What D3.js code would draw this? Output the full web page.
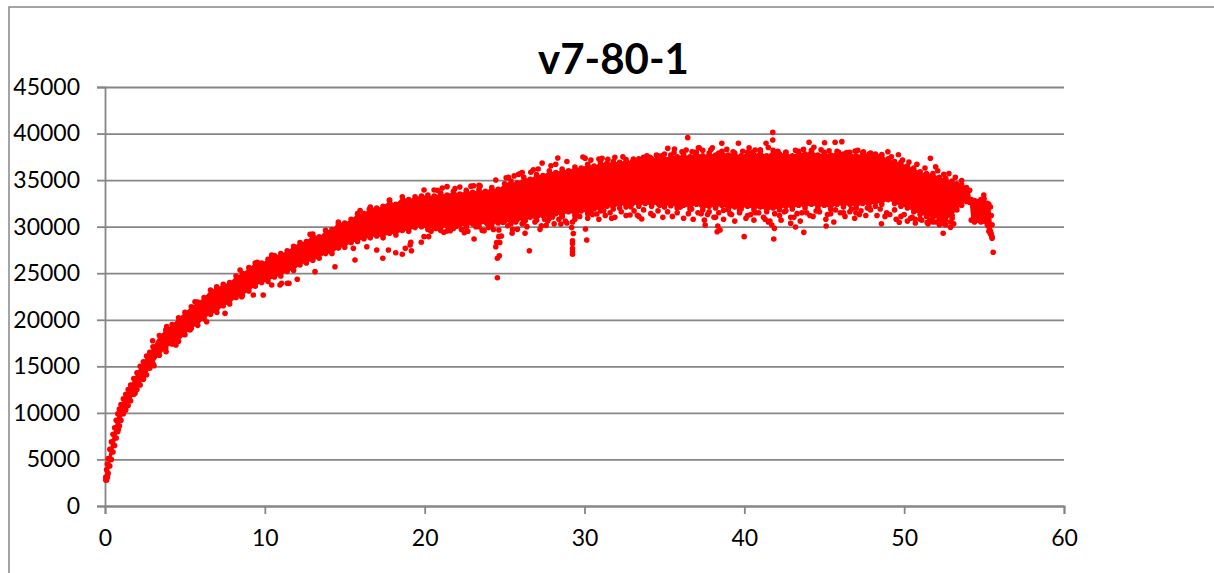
<!DOCTYPE html>
<html>
<head>
<meta charset="utf-8">
<script src="https://cdn.jsdelivr.net/npm/d3@7"></script>
<style>
  html, body { margin: 0; padding: 0; background: #fff; overflow: hidden; }
  .tick text { font-family: Lato, sans-serif; font-size: 23px; fill: #000; }
</style>
</head>
<body>
<script>
'use strict';

const title = "v7-80-1";
const xTicks = [0, 10, 20, 30, 40, 50, 60];
const yTicks = [0, 5000, 10000, 15000, 20000, 25000, 30000, 35000, 40000, 45000];

// edge of the solid cloud
const edgeX = [0.05, 0.1, 0.15, 0.2, 0.3, 0.4, 0.5, 0.6, 0.7, 0.8, 0.9, 1, 1.15, 1.3, 1.45, 1.6, 1.8, 2, 2.2, 2.4, 2.6, 2.8, 3,
  3.4, 3.8, 4.2, 4.6, 5, 5.4, 5.8, 6.2, 6.6, 7, 7.4, 7.8, 8.2, 8.6, 9, 9.4, 9.8, 10.2, 10.6, 11, 11.4, 11.8, 12.2, 12.6, 13, 13.4, 13.8, 14.2, 14.6, 15, 15.4, 15.8, 16.2, 16.6, 17, 17.4, 17.8, 18.2, 18.6, 19, 19.4, 19.8,
  20.2, 20.6, 21, 21.4, 21.8, 22.2, 22.6, 23, 23.4, 23.8, 24.2, 24.6, 25, 25.4, 25.8, 26.2, 26.6, 27, 27.4, 27.8, 28.2, 28.6, 29, 29.4, 29.8, 30.2, 30.6, 31, 31.4, 31.8, 32.2, 32.6, 33, 33.4, 33.8, 34.2, 34.6, 35, 35.4, 35.8, 36.2, 36.6, 37, 37.4, 37.8, 38.2, 38.6, 39, 39.4, 39.8, 40.2, 40.6, 41, 41.4, 41.8, 42.2, 42.6, 43, 43.4, 43.8, 44.2, 44.6, 45, 45.4, 45.8, 46.2, 46.6, 47, 47.4, 47.8, 48.2, 48.6,
  49, 49.4, 49.8, 50.2, 50.6, 51, 51.4, 51.8, 52.2, 52.6, 53, 53.3, 53.6, 53.9, 54.1, 54.2, 54.4, 54.6, 54.8, 55, 55.2, 55.3, 55.4, 55.45, 55.5];
const edgeTop = [3100, 3900, 4500, 5100, 6100, 6900, 7700, 8400, 9200, 9900, 10400, 10900, 11500, 12000, 12500, 13000, 13700, 14300, 15000, 15500, 16100, 16500, 17100,
  18300, 18900, 19500, 20200, 20800, 21400, 21900, 22400, 23200, 23400, 23800, 24000, 24700, 25000, 25600, 26100, 26100, 26500, 26900, 27100, 27400, 27900, 28300, 28400, 29200, 28900, 29600, 29700, 30500, 30400, 30800, 31400, 31400, 32100, 32000, 32200, 32800, 32400, 33200, 32900, 33200, 33300,
  33400, 33300, 33600, 33400, 33800, 33500, 33900, 33700, 34000, 33800, 34200, 34000, 34600, 34900, 34700, 35300, 35100, 35600, 35500, 36000, 35800, 36200, 36000, 36400, 36300, 36700, 36500, 36900, 36800, 37000, 36900, 37200, 37000, 37300, 37200, 37300, 37600, 37300, 37700, 37500, 37800, 37500, 38000, 37600, 37900, 37700, 38100, 37700, 37900, 37600, 38000, 37700, 38100, 37600, 38200, 37800, 38000, 37600, 38100, 37800, 38200, 37700, 38000, 37700, 38100, 37800, 38000, 37600, 37900, 37800, 37800, 37600,
  37300, 37000, 36900, 36500, 36300, 35900, 35700, 35700, 35300, 35200, 34900, 34600, 34500, 34200, 33900, 32900, 32800, 32700, 32900, 33000, 32500, 32400, 32100, 31200, 30200];
const edgeBottom = [2800, 2800, 3100, 3500, 4300, 5000, 5800, 6500, 7300, 8000, 8600, 9200, 9900, 10300, 10800, 11300, 12000, 12500, 13000, 13700, 14100, 14800, 15300,
  16200, 16900, 17400, 17700, 18400, 19100, 19400, 20100, 20600, 20800, 21500, 21700, 22400, 22600, 23100, 23600, 24000, 24100, 24600, 24700, 25200, 25300, 25900, 26100, 26400, 26600, 27100, 27100, 27700, 27800, 28300, 28400, 28700, 28800, 29000, 28800, 29300, 29100, 29600, 29500, 29900, 30000,
  29700, 29900, 29600, 30100, 29800, 30200, 29900, 30300, 30000, 30500, 30200, 30400, 30600, 30300, 30800, 30500, 31000, 30700, 31200, 30900, 31400, 31100, 31600, 31200, 31700, 31400, 31900, 31700, 32200, 31900, 32400, 32100, 32500, 32200, 32500, 32200, 32500, 32100, 32400, 32000, 32300, 31900, 32400, 31800, 32200, 32000, 32300, 31800, 32100, 31900, 32200, 31800, 32100, 31600, 32000, 31800, 32200, 31900, 32300, 32000, 32400, 32000, 32300, 31900, 32400, 32100, 32400, 32000, 32500, 32200, 32600, 32400,
  32900, 32500, 32200, 32000, 31600, 31300, 31100, 31000, 30800, 30700, 31200, 31800, 32300, 32700, 32600, 30700, 30500, 30700, 30500, 30600, 30200, 30000, 29500, 29200, 28900];

// single dots standing off the cloud
const dotX = [36.46, 24.55, 24.55, 24.67, 24.45, 24.7, 24.64, 24.64, 24.5, 24.8, 29.25, 29.25, 29.25, 29.25, 29.25, 29.3, 29.2, 30.14, 30.06, 26.55,
  23.09, 26.28, 25.47, 25.8, 27.22, 27.6, 22.48, 21.38, 21.6, 23.72, 24.0, 20.25, 19.96, 19.79, 19.13, 19.09, 18.79, 19.17, 18.6, 31.7,
  32.85, 33.31, 33.58, 34.15, 30.77, 28.52, 28.8, 29.25, 28.33, 27.35, 29.9, 30.04, 19.96, 21.4, 20.59, 23.07, 23.47, 24.45, 25.24, 25.87,
  26.1, 26.64, 30.9, 31.46, 33.69, 35.21, 35.63, 36.36, 36.73, 34.84, 34.1, 33.06, 37.13, 41.78, 41.78, 44.05, 44.35, 45.02, 45.68, 46.1,
  38.59, 38.0, 37.17, 39.63, 40.3, 41.36, 40.68, 49.64, 48.98, 51.64, 51.97, 52.48, 54.98, 46.93, 47.45, 48.39, 55.57, 55.5, 55.4, 55.3,
  41.84, 39.99, 38.3, 38.48, 38.34, 37.55, 41.88, 41.72, 42.9, 43.2, 43.72, 45.12, 48.58, 49.69, 50.69, 51.44, 52.44, 52.9, 46.98, 44.49,
  17.38, 15.64, 14.39, 12.03, 13.14, 17.0, 18.19, 17.73, 11.41, 10.95, 10.43, 16.38, 15.54, 15.96, 16.54, 17.8, 14.6, 12.83, 9.53, 10.43,
  8.45, 7.51, 6.36, 5.32, 4.44, 3.82, 3.07, 2.4, 1.88, 0.83, 2.98, 3.86, 5.63, 6.99, 10.43, 11.05, 11.51, 9.9, 9.28, 8.55,
  36.9, 37.4, 37.9, 38.4, 38.9, 39.3, 39.9, 40.5, 41.0, 41.5, 42.1, 42.6, 43.2, 43.7, 44.2, 44.8, 45.3, 45.9, 46.4, 47.1,
  47.9, 48.6, 49.2, 49.9, 50.3, 50.8, 51.3, 52.1, 52.8, 53.2, 53.6, 36.7, 37.3, 37.8, 38.2, 38.7, 39.2, 39.7, 40.2, 40.7,
  41.2, 41.6, 42.2, 42.6, 43.1, 43.6, 44.1, 44.6, 45.2, 45.7, 46.2, 46.7, 47.2, 47.7, 48.2, 48.9, 49.4, 50.0, 50.5, 51.0,
  51.6, 52.0, 52.5, 53.0, 20.8, 21.1, 21.9, 22.2, 22.9, 23.4, 25.1, 25.6, 26.0, 26.8, 27.1, 27.9, 28.2, 28.9, 30.4, 31.1,
  31.9, 32.4, 33.9, 34.5, 35.0, 35.6, 36.1, 20.2, 21.0, 22.0, 22.6, 23.9, 24.9, 25.7, 26.3, 27.5, 28.0, 28.6, 29.5, 30.4, 31.2, 32.2, 32.9, 34.7, 35.4, 36.0];
const dotY = [39560, 24520, 26600, 26880, 27850, 28300, 28930, 29650, 28300, 29000, 27030, 27300, 27650, 28200, 28480, 29270, 29900, 28570, 29750, 27420,
  28680, 29290, 29290, 29710, 29710, 30140, 29350, 29530, 29570, 29570, 29900, 28930, 28930, 28320, 28320, 28030, 27670, 27420, 27030, 30900,
  31250, 31220, 30820, 31400, 31360, 30290, 30600, 30500, 37380, 36840, 37480, 37340, 33940, 34300, 33940, 34400, 34370, 35010, 35300, 35620,
  35800, 35840, 37270, 37230, 37450, 38410, 38340, 38230, 38050, 37620, 37450, 37270, 38480, 40130, 39310, 39060, 38520, 39020, 39060, 39130,
  38950, 38480, 38480, 38950, 38480, 38950, 38230, 37730, 38050, 37340, 36440, 35620, 33400, 38130, 38050, 37520, 27250, 28750, 29200, 29500,
  28680, 28930, 29460, 29640, 30070, 30180, 29820, 30180, 30360, 29960, 29390, 30070, 30320, 30470, 30790, 30430, 29290, 29930, 31500, 31680,
  26600, 26420, 25700, 24350, 25170, 27490, 27200, 27490, 23920, 23730, 23730, 27850, 27670, 31720, 31900, 32860, 30290, 29180, 26170, 26850,
  25350, 20690, 19790, 18900, 17290, 16570, 15070, 13600, 12100, 8240, 17750, 19260, 21940, 23550, 26960, 23920, 23920, 22660, 22660, 22480,
  38000, 38200, 38250, 37900, 38300, 38050, 38100, 38000, 38250, 38500, 38100, 38000, 38200, 38300, 38050, 38250, 38150, 38000, 37950, 38200,
  37900, 37750, 37500, 37150, 36950, 36700, 36300, 36000, 35700, 35300, 34950, 31900, 31400, 31600, 31000, 31750, 31300, 31800, 31200, 31500,
  31000, 30600, 31200, 31700, 31000, 31500, 31200, 31750, 31300, 31800, 31500, 31900, 31300, 32000, 32200, 31500, 31800, 31300, 31000, 30800,
  30700, 30500, 30300, 30900, 33900, 34150, 34100, 34250, 34350, 34450, 35250, 35450, 35700, 36100, 36200, 36550, 36700, 37000, 37150, 37350,
  37450, 37500, 37600, 37700, 37800, 37950, 38050, 30000, 30100, 30050, 30200, 30350, 30450, 30500, 30650, 30800, 31050, 31150, 31350, 31500, 31700, 32000, 32150, 32300, 32250, 32100];

// the loose fringe under the solid cloud
const fringeX = [20.4, 20.7, 21.2, 21.5, 22.3, 22.7, 23.2, 23.6, 24.1, 24.3, 25.2, 25.5, 26.1, 26.4, 26.9, 27.3, 27.7, 28.1, 28.4, 28.9,
  29.4, 29.7, 30.2, 30.5, 30.9, 31.3, 31.6, 31.9, 32.3, 32.6, 33.1, 33.4, 33.7, 34.3, 34.6, 34.9, 35.2, 35.5, 35.8, 36.2,
  36.5, 36.8, 37.1, 37.5, 37.7, 38.1, 38.4, 38.7, 39.1, 39.4, 39.7, 40.1, 40.4, 40.6, 40.9, 41.3, 41.5, 41.9, 42.3, 42.5,
  42.9, 43.3, 43.5, 43.9, 44.3, 44.7, 45.1, 45.4, 45.6, 46.0, 46.3, 46.6, 46.9, 47.3, 47.6, 47.9, 48.3, 48.5, 48.8, 49.1,
  49.5, 49.8, 50.2, 50.4, 50.7, 51.1, 51.5, 51.8, 52.2, 52.4, 52.6, 52.9, 53.1];
const fringeY = [29500, 29800, 29400, 29900, 29700, 29500, 30000, 29600, 30100, 29700, 30100, 29700, 30300, 30000, 30500, 30100, 30600, 30300, 30800, 30400,
  30800, 31100, 30900, 31300, 30800, 31200, 31500, 31000, 31600, 31200, 31700, 31100, 31800, 31200, 31700, 31000, 31600, 31100, 31500, 30900,
  31400, 30800, 31500, 30700, 31300, 31000, 31500, 30800, 31400, 30600, 31500, 30900, 31300, 30700, 31500, 30800, 30500, 31400, 30700, 31600,
  31000, 31400, 30600, 31500, 31100, 31600, 30800, 31400, 30500, 31500, 31100, 31600, 30900, 31700, 31200, 31800, 31200, 31900, 31100, 31300,
  30800, 31100, 30600, 30900, 30400, 30700, 30300, 30500, 30200, 30600, 30200, 30500, 30300];

const edge = edgeX.map((x, i) => ({ x: x, top: edgeTop[i], bottom: edgeBottom[i] }));
const points = edgeX.map((x, i) => ({ x: x, y: edgeTop[i] }))
  .concat(edgeX.map((x, i) => ({ x: x, y: edgeBottom[i] })))
  .concat(dotX.map((x, i) => ({ x: x, y: dotY[i] })))
  .concat(fringeX.map((x, i) => ({ x: x, y: fringeY[i] })));

const svg = d3.select('body').append('svg')
  .attr('width', 1214)
  .attr('height', 573);

svg.append('rect').attr('width', 1214).attr('height', 573).attr('fill', '#fff');

// outer chart frame, only top and left are in view
svg.append('path')
  .attr('d', d3.line()([[9, 573], [9, 7], [1214, 7]]))
  .attr('fill', 'none')
  .attr('stroke', '#868686')
  .attr('stroke-width', 1.5);

const xScale = d3.scaleLinear().domain([0, 60]).range([105, 1064]);
const yScale = d3.scaleLinear().domain([0, 45000]).range([506, 87]);

// horizontal grid
svg.append('g')
  .attr('transform', 'translate(105, 0)')
  .call(d3.axisLeft(yScale).tickValues(yTicks).tickSize(-959).tickFormat(''))
  .call(g => g.select('.domain').remove())
  .selectAll('line')
  .attr('stroke', '#868686')
  .attr('stroke-width', 1.8);

const yAxis = svg.append('g')
  .attr('transform', 'translate(105, 0)')
  .call(d3.axisLeft(yScale).tickValues(yTicks).tickSize(8).tickPadding(17).tickFormat(d3.format('d')));

const xAxis = svg.append('g')
  .attr('transform', 'translate(0, 506)')
  .call(d3.axisBottom(xScale).tickValues(xTicks).tickSize(8).tickPadding(16));

[xAxis, yAxis].forEach(g => {
  g.select('.domain').attr('stroke', '#868686').attr('stroke-width', 1.8);
  g.selectAll('.tick line').attr('stroke', '#868686').attr('stroke-width', 1.8);
});

svg.append('path')
  .datum(edge)
  .attr('fill', '#ff0000')
  .attr('d', d3.area()
    .x(d => xScale(d.x))
    .y0(d => yScale(d.bottom))
    .y1(d => yScale(d.top)));

svg.selectAll('.dot')
  .data(points)
  .enter()
  .append('circle')
  .attr('class', 'dot')
  .attr('cx', d => xScale(d.x))
  .attr('cy', d => yScale(d.y))
  .attr('r', 2.8)
  .attr('fill', '#ff0000');

svg.append('text')
  .attr('x', 613.5)
  .attr('y', 74)
  .attr('text-anchor', 'middle')
  .style('font-family', 'Lato, sans-serif')
  .style('font-weight', 'bold')
  .style('font-size', '42px')
  .text(title);
</script>
</body>
</html>
